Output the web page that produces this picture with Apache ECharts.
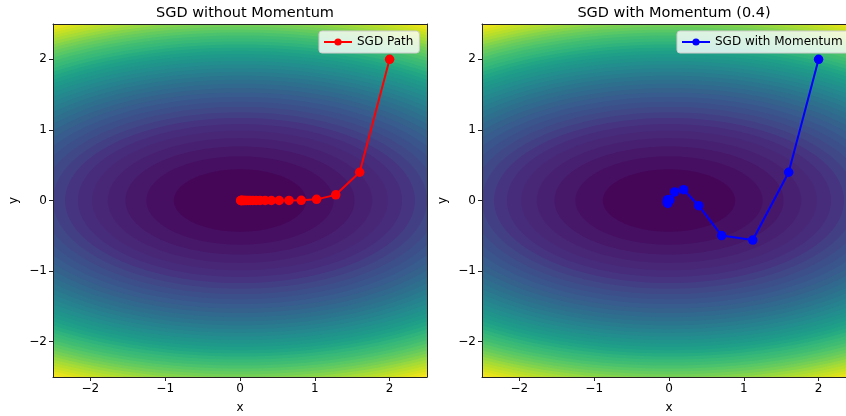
<!DOCTYPE html>
<html>
<head>
<meta charset="utf-8">
<script src="https://cdn.jsdelivr.net/npm/echarts@6/dist/echarts.min.js"></script>
<style>
  html, body { margin: 0; padding: 0; background: #fff; }
  #chart { width: 846px; height: 416px; }
</style>
</head>
<body>
<div id="chart"></div>
<script>
// Panel titles, legend names and tick labels
const titles = ['SGD without Momentum', 'SGD with Momentum (0.4)'];
const seriesNames = ['SGD Path', 'SGD with Momentum'];
const tickValues = [-2, -1, 0, 1, 2];
const axisRange = [-2.5, 2.5];

// Plain SGD iterates
const sgdX = [2.000, 1.600, 1.280, 1.024, 0.819, 0.655, 0.524, 0.419, 0.336, 0.268,
              0.215, 0.172, 0.137, 0.110, 0.088, 0.070, 0.056, 0.045, 0.036, 0.029,
              0.023, 0.018, 0.015, 0.012, 0.009];
const sgdY = [2.000, 0.400, 0.080, 0.016, 0.003, 0.001, 0.000, 0.000, 0.000, 0.000,
              0.000, 0.000, 0.000, 0.000, 0.000, 0.000, 0.000, 0.000, 0.000, 0.000,
              0.000, 0.000, 0.000, 0.000, 0.000];

// SGD with momentum iterates
const momentumX = [2.000, 1.600, 1.120, 0.704, 0.397, 0.195, 0.075, 0.012, -0.016, -0.024,
                   -0.022, -0.017, -0.012, -0.007, -0.004, -0.002, -0.001, 0.000, 0.000, 0.000];
const momentumY = [2.000, 0.400, -0.560, -0.496, -0.074, 0.154, 0.122, 0.012, -0.042, -0.030,
                   -0.001, 0.011, 0.007, 0.000, -0.003, -0.002, -0.001, 0.000, 0.000, 0.000];

// Loss surface f(x, y) = wx*x^2 + wy*y^2, filled in equal-height bands
const surfaceWeights = [1, 4];
const surfaceMax = 31.25;
const bandCount = 40;

const FONT = 'DejaVu Sans';

// viridis colour map
const viridisStops = ['#440154', '#471365', '#482475', '#472f7d', '#414487', '#3b528b',
  '#355f8d', '#2f6c8e', '#2a788e', '#25858e', '#21918c', '#1e9c89', '#22a884', '#35b779',
  '#44bf70', '#5ec962', '#7ad151', '#9fda3a', '#bddf26', '#dfe318', '#fde725'];
function hexToRgb(h) {
  return [parseInt(h.slice(1, 3), 16), parseInt(h.slice(3, 5), 16), parseInt(h.slice(5, 7), 16)];
}
function viridis(t) {
  t = Math.max(0, Math.min(1, t));
  const pos = t * (viridisStops.length - 1);
  const i = Math.min(Math.floor(pos), viridisStops.length - 2);
  const f = pos - i;
  const a = hexToRgb(viridisStops[i]), b = hexToRgb(viridisStops[i + 1]);
  const c = a.map((v, j) => Math.round(v + (b[j] - v) * f));
  return 'rgb(' + c.join(',') + ')';
}

const bandStep = surfaceMax / bandCount;
// Draw outer bands first so that inner ones paint over them
const bandData = [];
for (let k = bandCount - 1; k >= 0; k--) bandData.push([k, 0]);

function contourItem(params, api) {
  const k = api.value(0);
  const level = (k === bandCount - 1) ? surfaceMax * 2 : (k + 1) * bandStep;
  const a = Math.sqrt(level / surfaceWeights[0]);
  const b = Math.sqrt(level / surfaceWeights[1]);
  const pts = [];
  const n = 200;
  for (let i = 0; i < n; i++) {
    const t = (i / n) * Math.PI * 2;
    pts.push(api.coord([a * Math.cos(t), b * Math.sin(t)]));
  }
  const cs = params.coordSys;
  return {
    type: 'polygon',
    z2: bandCount - k,
    shape: { points: pts },
    style: { fill: viridis((k + 0.5) / bandCount), stroke: null },
    clipPath: { type: 'rect', shape: { x: cs.x, y: cs.y, width: cs.width, height: cs.height } }
  };
}

function fmtTick(v) {
  return v < 0 ? '\u2212' + Math.abs(v) : String(v);
}

const grids = [
  { left: 53, top: 24, width: 374, height: 353, containLabel: false, outerBoundsMode: 'none' },
  { left: 482, top: 24, width: 374, height: 353, containLabel: false, outerBoundsMode: 'none' }
];

const xAxes = [], yAxes = [], series = [], titleList = [], legends = [];
const paths = [
  { xs: sgdX, ys: sgdY, color: '#ff0000' },
  { xs: momentumX, ys: momentumY, color: '#0000ff' }
];
const spine = { show: true, onZero: false, lineStyle: { color: '#222', width: 1 } };

grids.forEach((g, i) => {
  xAxes.push({
    gridIndex: i, type: 'value', min: axisRange[0], max: axisRange[1], position: 'bottom', z: 5,
    name: 'x', nameLocation: 'middle', nameGap: 25,
    nameTextStyle: { fontFamily: FONT, fontSize: 12, color: '#000' },
    axisLine: spine,
    axisTick: { show: true, customValues: tickValues, length: 4, lineStyle: { color: '#222' } },
    axisLabel: { customValues: tickValues, formatter: fmtTick, fontFamily: FONT, fontSize: 12, color: '#000', margin: 6 },
    splitLine: { show: false }
  });
  xAxes.push({
    gridIndex: i, type: 'value', min: axisRange[0], max: axisRange[1], position: 'top', z: 5,
    axisLine: spine, axisTick: { show: false }, axisLabel: { show: false }, splitLine: { show: false }
  });
  yAxes.push({
    gridIndex: i, type: 'value', min: axisRange[0], max: axisRange[1], position: 'left', z: 5,
    name: 'y', nameLocation: 'middle', nameGap: 33, nameRotate: 90,
    nameTextStyle: { fontFamily: FONT, fontSize: 12, color: '#000' },
    axisLine: spine,
    axisTick: { show: true, customValues: tickValues, length: 4, lineStyle: { color: '#222' } },
    axisLabel: { customValues: tickValues, formatter: fmtTick, fontFamily: FONT, fontSize: 12, color: '#000', margin: 6 },
    splitLine: { show: false }
  });
  yAxes.push({
    gridIndex: i, type: 'value', min: axisRange[0], max: axisRange[1], position: 'right', z: 5,
    axisLine: spine, axisTick: { show: false }, axisLabel: { show: false }, splitLine: { show: false }
  });

  series.push({
    type: 'custom', xAxisIndex: 2 * i, yAxisIndex: 2 * i, z: 1, silent: true,
    renderItem: contourItem, data: bandData, animation: false
  });
  const p = paths[i];
  series.push({
    type: 'line', name: seriesNames[i], xAxisIndex: 2 * i, yAxisIndex: 2 * i, z: 3,
    data: p.xs.map((x, j) => [x, p.ys[j]]),
    symbol: 'circle', symbolSize: 9.5, showSymbol: true,
    lineStyle: { color: p.color, width: 2 },
    itemStyle: { color: p.color },
    animation: false
  });

  titleList.push({
    text: titles[i], left: g.left + g.width / 2, top: 1, textAlign: 'center',
    textStyle: { fontFamily: FONT, fontSize: 14.5, fontWeight: 'normal', color: '#000' }
  });
});

const legendBase = {
  itemWidth: 28, itemHeight: 9, padding: [5, 6, 5, 4],
  backgroundColor: 'rgba(255,255,255,0.8)', borderColor: '#cccccc', borderWidth: 1, borderRadius: 3,
  textStyle: { fontFamily: FONT, fontSize: 12, color: '#000' }
};
legends.push(Object.assign({ data: [seriesNames[0]], left: 319, top: 31 }, legendBase));
legends.push(Object.assign({ data: [seriesNames[1]], left: 677, top: 31 }, legendBase));

const chart = echarts.init(document.getElementById('chart'), null, { renderer: 'canvas' });
chart.setOption({
  animation: false,
  backgroundColor: '#ffffff',
  title: titleList,
  legend: legends,
  grid: grids,
  xAxis: xAxes,
  yAxis: yAxes,
  series: series
});
</script>
</body>
</html>
